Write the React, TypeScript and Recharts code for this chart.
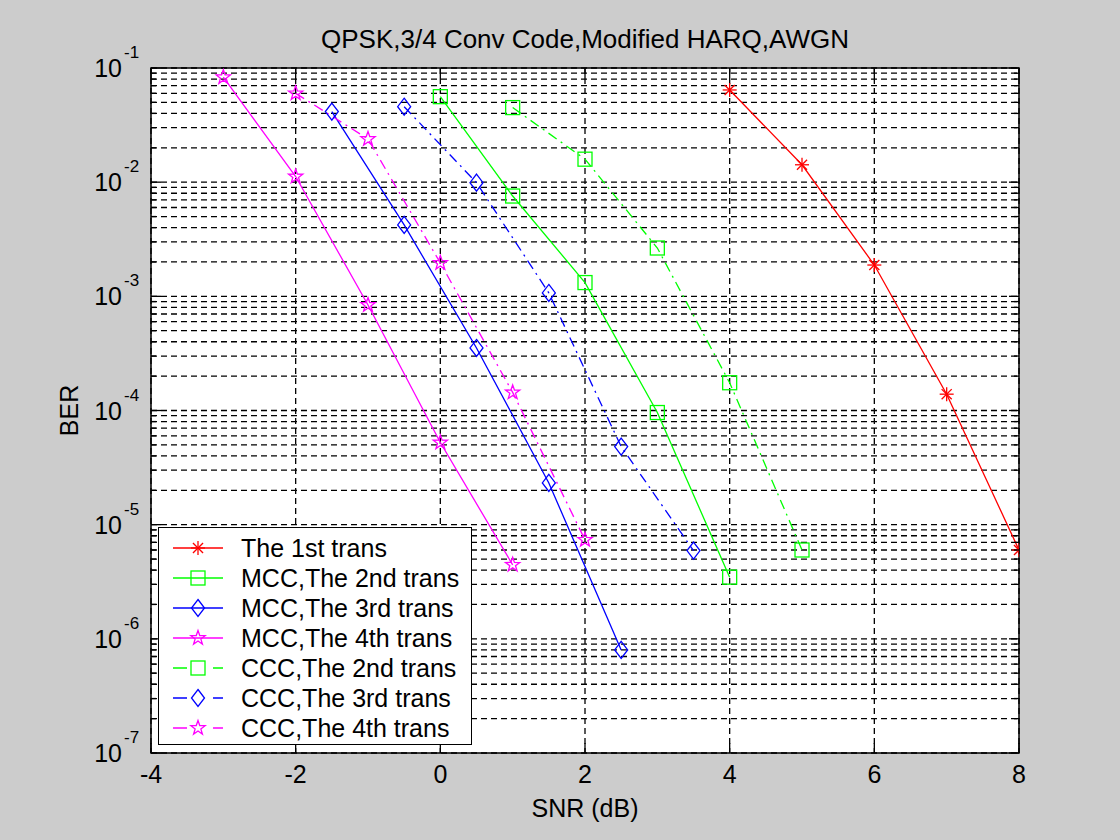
import React from 'react';
import { LineChart, Line, XAxis, YAxis, CartesianGrid, ReferenceArea, Legend } from 'recharts';

// SNR (dB) and BER per curve
const snr1st = [4, 5, 6, 7, 8];
const ber1st = [0.0642, 0.0142, 1.88e-3, 1.39e-4, 6.0e-6];

const snrMcc2 = [0, 1, 2, 3, 4];
const berMcc2 = [0.0561, 7.56e-3, 1.32e-3, 9.6e-5, 3.47e-6];

const snrMcc3 = [-1.5, -0.5, 0.5, 1.5, 2.5];
const berMcc3 = [0.0415, 4.22e-3, 3.53e-4, 2.32e-5, 8.0e-7];

const snrMcc4 = [-3, -2, -1, 0, 1];
const berMcc4 = [0.083, 0.0112, 8.4e-4, 5.24e-5, 4.45e-6];

const snrCcc2 = [1, 2, 3, 4, 5];
const berCcc2 = [0.045, 0.0159, 2.65e-3, 1.75e-4, 6.0e-6];

const snrCcc3 = [-0.5, 0.5, 1.5, 2.5, 3.5];
const berCcc3 = [0.0458, 9.9e-3, 1.07e-3, 4.83e-5, 5.93e-6];

const snrCcc4 = [-2, -1, 0, 1, 2];
const berCcc4 = [0.06, 0.0239, 1.96e-3, 1.44e-4, 7.36e-6];

const xTicks = [-4, -2, 0, 2, 4, 6, 8];
const yDecades = [-7, -6, -5, -4, -3, -2, -1];
const yMinor = [2, 3, 4, 5, 6, 7, 8, 9];

const TITLE = 'QPSK,3/4 Conv Code,Modified HARQ,AWGN';
const FONT = '"Liberation Sans", Arial, sans-serif';

const W = 1120;
const H = 840;
const PLOT_L = 151;
const PLOT_T = 68;
const PLOT_R = 1019;
const PLOT_B = 753;
const DASHDOT = '10 5 2 5';

const zip = (xs: number[], ys: number[]) => xs.map((x, i) => ({ snr: x, ber: ys[i] }));

const series = [
  { name: 'The 1st trans', color: '#ff0000', marker: 'asterisk', dash: undefined, data: zip(snr1st, ber1st) },
  { name: 'MCC,The 2nd trans', color: '#00ff00', marker: 'square', dash: undefined, data: zip(snrMcc2, berMcc2) },
  { name: 'MCC,The 3rd trans', color: '#0000ff', marker: 'diamond', dash: undefined, data: zip(snrMcc3, berMcc3) },
  { name: 'MCC,The 4th trans', color: '#ff00ff', marker: 'star', dash: undefined, data: zip(snrMcc4, berMcc4) },
  { name: 'CCC,The 2nd trans', color: '#00ff00', marker: 'square', dash: DASHDOT, data: zip(snrCcc2, berCcc2) },
  { name: 'CCC,The 3rd trans', color: '#0000ff', marker: 'diamond', dash: DASHDOT, data: zip(snrCcc3, berCcc3) },
  { name: 'CCC,The 4th trans', color: '#ff00ff', marker: 'star', dash: DASHDOT, data: zip(snrCcc4, berCcc4) },
];

const yTicks: number[] = [];
yDecades.forEach((e) => {
  yTicks.push(Math.pow(10, e));
  if (e < -1) yMinor.forEach((m) => yTicks.push(m * Math.pow(10, e)));
});

function starPoints(cx: number, cy: number, ro: number, ri: number) {
  const pts: string[] = [];
  for (let i = 0; i < 10; i++) {
    const r = i % 2 === 0 ? ro : ri;
    const a = -Math.PI / 2 + (i * Math.PI) / 5;
    pts.push(`${cx + r * Math.cos(a)},${cy + r * Math.sin(a)}`);
  }
  return pts.join(' ');
}

function Marker({ shape, cx, cy, color }: { shape: string; cx: number; cy: number; color: string }) {
  const sw = 1.3;
  if (shape === 'asterisk') {
    const r = 7;
    const d = r * 0.72;
    return (
      <g stroke={color} strokeWidth={sw}>
        <line x1={cx - r} y1={cy} x2={cx + r} y2={cy} />
        <line x1={cx} y1={cy - r} x2={cx} y2={cy + r} />
        <line x1={cx - d} y1={cy - d} x2={cx + d} y2={cy + d} />
        <line x1={cx - d} y1={cy + d} x2={cx + d} y2={cy - d} />
      </g>
    );
  }
  if (shape === 'square') {
    return <rect x={cx - 7} y={cy - 7} width={14} height={14} fill="none" stroke={color} strokeWidth={sw} />;
  }
  if (shape === 'diamond') {
    return (
      <polygon
        points={`${cx},${cy - 8.5} ${cx + 6.5},${cy} ${cx},${cy + 8.5} ${cx - 6.5},${cy}`}
        fill="none"
        stroke={color}
        strokeWidth={sw}
      />
    );
  }
  return <polygon points={starPoints(cx, cy, 7.5, 3)} fill="none" stroke={color} strokeWidth={sw} />;
}

const YTick = (props: any) => {
  const { y, payload } = props;
  const lg = Math.log10(payload.value);
  const exp = Math.round(lg);
  const major = Math.abs(lg - exp) < 1e-6;
  const len = major ? 10 : 5;
  return (
    <g>
      <line x1={PLOT_L} y1={y} x2={PLOT_L + len} y2={y} stroke="#000" strokeWidth={1.3} />
      <line x1={PLOT_R - len} y1={y} x2={PLOT_R} y2={y} stroke="#000" strokeWidth={1.3} />
      {major && (
        <>
          <text x={PLOT_L - 29} y={y + 9} textAnchor="end" fontSize={25} fontFamily={FONT} fill="#000">
            10
          </text>
          <text x={PLOT_L - 27} y={y - 10} textAnchor="start" fontSize={17} fontFamily={FONT} fill="#000">
            {exp}
          </text>
        </>
      )}
    </g>
  );
};

const XTick = (props: any) => {
  const { x, payload } = props;
  return (
    <g>
      <line x1={x} y1={PLOT_B} x2={x} y2={PLOT_B - 10} stroke="#000" strokeWidth={1.3} />
      <line x1={x} y1={PLOT_T} x2={x} y2={PLOT_T + 10} stroke="#000" strokeWidth={1.3} />
      <text x={x} y={PLOT_B + 30} textAnchor="middle" fontSize={25} fontFamily={FONT} fill="#000">
        {payload.value}
      </text>
    </g>
  );
};

const LegendBox = () => (
  <div
    style={{
      width: 314,
      height: 218,
      boxSizing: 'border-box',
      border: '1.5px solid #000',
      background: '#fff',
      paddingTop: 5,
      fontFamily: FONT,
    }}
  >
    {series.map((s) => (
      <div key={s.name} style={{ display: 'flex', alignItems: 'center', height: 30 }}>
        <svg width={82} height={30} style={{ flex: 'none' }}>
          <line x1={14} y1={15} x2={64} y2={15} stroke={s.color} strokeWidth={1.3} strokeDasharray={s.dash ? '14 26 14' : undefined} />
          <Marker shape={s.marker} cx={39} cy={15} color={s.color} />
        </svg>
        <span style={{ fontSize: 25, lineHeight: '30px', color: '#000', whiteSpace: 'nowrap' }}>{s.name}</span>
      </div>
    ))}
  </div>
);

export default function App() {
  return (
    <div style={{ position: 'absolute', left: 0, top: 0, width: W, height: H, background: '#cccccc' }}>
      <div
        style={{
          position: 'absolute',
          left: 0,
          top: 26,
          width: 2 * ((PLOT_L + PLOT_R) / 2),
          textAlign: 'center',
          fontFamily: FONT,
          fontSize: 26,
          lineHeight: '26px',
          color: '#000',
        }}
      >
        {TITLE}
      </div>
      <div style={{ position: 'absolute', left: 0, top: 0 }}>
        <LineChart width={W} height={H} margin={{ top: PLOT_T, right: W - PLOT_R, left: 0, bottom: 0 }}>
          <CartesianGrid fill="#ffffff" stroke="#000" strokeDasharray="6 4" strokeWidth={1.3} />
          <XAxis
            type="number"
            dataKey="snr"
            domain={[-4, 8]}
            ticks={xTicks}
            allowDataOverflow
            height={H - PLOT_B}
            axisLine={false}
            tickLine={false}
            tick={<XTick />}
            interval={0}
            label={{
              content: () => (
                <text x={(PLOT_L + PLOT_R) / 2} y={PLOT_B + 64} textAnchor="middle" fontSize={25} fontFamily={FONT} fill="#000">
                  SNR (dB)
                </text>
              ),
            }}
          />
          <YAxis
            type="number"
            scale="log"
            domain={[1e-7, 1e-1]}
            ticks={yTicks}
            allowDataOverflow
            width={PLOT_L}
            axisLine={false}
            tickLine={false}
            tick={<YTick />}
            interval={0}
            label={{
              content: () => (
                <text
                  x={78}
                  y={(PLOT_T + PLOT_B) / 2}
                  textAnchor="middle"
                  fontSize={25}
                  fontFamily={FONT}
                  fill="#000"
                  transform={`rotate(-90, 78, ${(PLOT_T + PLOT_B) / 2})`}
                >
                  BER
                </text>
              ),
            }}
          />
          <ReferenceArea x1={-4} x2={8} y1={1e-7} y2={1e-1} fill="none" stroke="#000" strokeWidth={1.5} fillOpacity={0} />
          {series.map((s) => (
            <Line
              key={s.name}
              data={s.data}
              dataKey="ber"
              type="linear"
              stroke={s.color}
              strokeWidth={1.3}
              strokeDasharray={s.dash}
              isAnimationActive={false}
              dot={(p: any) => <Marker key={`${s.name}-${p.index}`} shape={s.marker} cx={p.cx} cy={p.cy} color={s.color} />}
              activeDot={false}
            />
          ))}
          <Legend
            layout="vertical"
            align="center"
            verticalAlign="middle"
            wrapperStyle={{ left: 158, top: 527, width: 314, height: 218 }}
            content={() => <LegendBox />}
          />
        </LineChart>
      </div>
    </div>
  );
}
